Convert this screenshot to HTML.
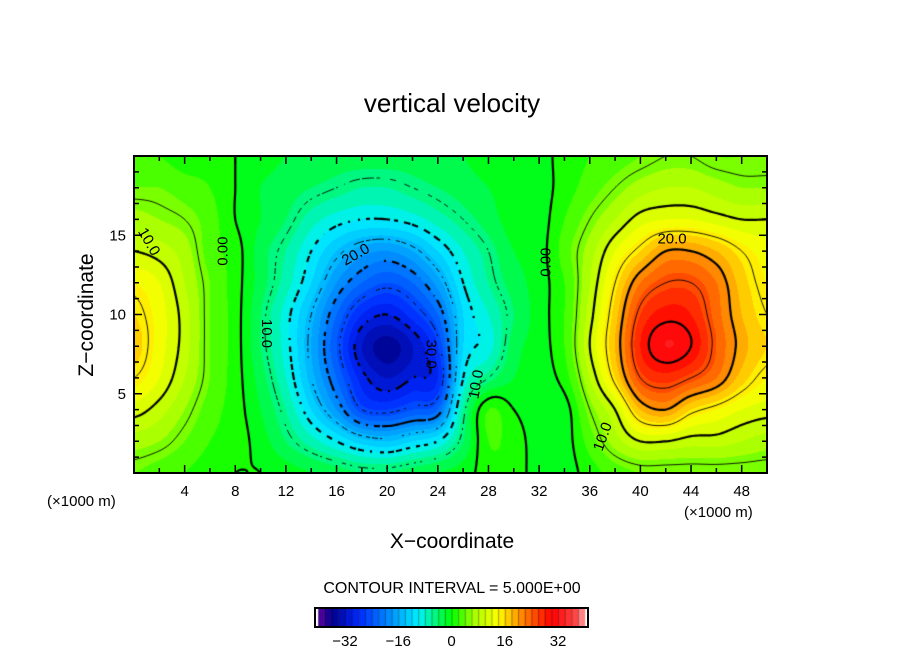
<!DOCTYPE html>
<html><head><meta charset="utf-8"><style>
body{margin:0;background:#fff;width:904px;height:654px;overflow:hidden;font-family:"Liberation Sans",sans-serif}
</style></head><body>
<svg id="svg" width="904" height="654" style="position:absolute;left:0;top:0">
<text x="452" y="112" font-size="26" text-anchor="middle">vertical velocity</text>
<text x="452" y="548" font-size="21" text-anchor="middle">X−coordinate</text>
<text transform="translate(93,315) rotate(-90)" font-size="21" text-anchor="middle">Z−coordinate</text>
<text x="47" y="506" font-size="15">(×1000 m)</text>
<text x="684" y="517" font-size="15">(×1000 m)</text>
<text x="452" y="593" font-size="16" text-anchor="middle">CONTOUR INTERVAL = 5.000E+00</text>
</svg>
<canvas id="cv" width="904" height="654" style="position:absolute;left:0;top:0"></canvas>
<svg id="ov" width="904" height="654" style="position:absolute;left:0;top:0"></svg>
<script>
const xNodes=[0,2,4,6,8,10,12,14,16,18,20,22,24,26,28,30,32,34,36,38,40,42,44,46,48,50];
const zNodes=[0,2,4,6,8,10,12,14,16,18,20];
const values=[
[4,3,2,1,0,0,-1,-2,-3,-4,-4,-3,-2,-1,1,1,-1,-1,1,3,4,4,4,4,4,4],
[7,6,4,2,1,-1,-4,-7,-10,-13,-14,-12,-10,-4,2,1,-1,-1,3,7,10,10,9,9,8,7],
[11,9,6,3,1,-2,-6,-12,-18,-25,-26,-24,-22,-6,2,0,-1,-1,5,10,18,20,16,14,12,11],
[15,12,8,4,1,-3,-8,-15,-22,-29,-32,-30,-28,-10,-5,-2,-1,1,8,16,25,27,25,22,17,14],
[17,13,9,4,1,-4,-9,-16,-24,-32,-35,-32,-26,-12,-9,-3,-1,2,10,18,28,32,30,24,19,16],
[16,13,9,4,1,-4,-9,-15,-22,-28,-30,-27,-22,-12,-8,-4,-1,2,9,17,26,29,28,23,18,15],
[14,12,8,4,1,-3,-7,-12,-18,-22,-24,-22,-17,-10,-6,-3,-1,2,8,15,22,25,25,22,17,14],
[10,9,7,3,1,-3,-6,-10,-14,-17,-18,-16,-12,-8,-5,-2,-1,3,7,12,16,20,20,18,15,13],
[7,6,5,3,0,-2,-4,-7,-9,-10,-10,-9,-7,-5,-3,-1,-1,2,5,8,11,12,12,11,10,10],
[4,4,3,2,0,-2,-3,-4,-5,-6,-6,-5,-4,-3,-2,-1,-1,1,3,5,7,8,8,7,6,6],
[2,2,1,1,0,-1,-2,-2,-3,-3,-3,-3,-2,-2,-1,-1,-1,1,2,3,4,5,5,4,4,4]];
const xTicks=[4,8,12,16,20,24,28,32,36,40,44,48];
const zTicks=[5,10,15];
const cbTicks=[-32,-16,0,16,32];
const contourLevels=[-30,-25,-20,-15,-10,-5,0,5,10,15,20,25,30];
const labelText=["10.0","0.00","10.0","20.0","30.0","10.0","0.00","20.0","10.0"];
const labelX=[1.2,7.0,10.5,17.5,23.5,27.0,32.5,42.5,37.0];
const labelZ=[14.6,14.0,8.8,13.8,7.5,5.6,13.3,14.8,2.3];
const labelRot=[60,-90,90,-30,90,-80,-90,0,-70];

const PL=134,PR=767,PT=156,PB=473,X0=0,X1=50,Z0=0,Z1=20;
const sx=x=>PL+(x-X0)/(X1-X0)*(PR-PL);
const sz=z=>PB-(z-Z0)/(Z1-Z0)*(PB-PT);
function cr(p0,p1,p2,p3,t){return p1+0.5*t*(p2-p0+t*(2*p0-5*p1+4*p2-p3+t*(3*(p1-p2)+p3-p0)));}
function V(j,i){j=Math.max(0,Math.min(zNodes.length-1,j));i=Math.max(0,Math.min(xNodes.length-1,i));return values[j][i];}
function val(x,z){
  let i=(x-xNodes[0])/(xNodes[1]-xNodes[0]),j=(z-zNodes[0])/(zNodes[1]-zNodes[0]);
  i=Math.max(0,Math.min(xNodes.length-1.0001,i));j=Math.max(0,Math.min(zNodes.length-1.0001,j));
  const i0=Math.floor(i),j0=Math.floor(j),fx=i-i0,fz=j-j0;
  const r=[];for(let k=-1;k<=2;k++)r.push(cr(V(j0+k,i0-1),V(j0+k,i0),V(j0+k,i0+1),V(j0+k,i0+2),fx));
  return cr(r[0],r[1],r[2],r[3],fz);
}
const stops=[[-40,[100,0,160]],[-36,[0,0,140]],[-28,[0,40,255]],[-18,[0,150,255]],[-10,[0,240,255]],[0,[0,255,0]],[7,[170,255,0]],[14,[255,255,0]],[22,[255,120,0]],[30,[255,0,0]],[37,[255,70,70]],[40,[255,160,160]]];
function cmap(v){
  v=Math.floor(v/2)*2+1;
  if(v<=stops[0][0])return stops[0][1];
  for(let k=1;k<stops.length;k++){if(v<=stops[k][0]){const t=(v-stops[k-1][0])/(stops[k][0]-stops[k-1][0]);return stops[k-1][1].map((c,n)=>Math.round(c+(stops[k][1][n]-c)*t));}}
  return stops[stops.length-1][1];
}
const cv=document.getElementById('cv'),ctx=cv.getContext('2d');
const W=PR-PL,H=PB-PT,img=ctx.createImageData(W,H);
for(let py=0;py<H;py++)for(let px=0;px<W;px++){
  const x=X0+(px+0.5)/W*(X1-X0),z=Z1-(py+0.5)/H*(Z1-Z0);
  const c=cmap(val(x,z)),o=(py*W+px)*4;img.data[o]=c[0];img.data[o+1]=c[1];img.data[o+2]=c[2];img.data[o+3]=255;}
ctx.putImageData(img,PL,PT);
const st=2,nx=Math.ceil(W/st),nz=Math.ceil(H/st);
const g=[];for(let j=0;j<=nz;j++){g[j]=[];for(let i=0;i<=nx;i++){g[j][i]=val(X0+Math.min(W,i*st)/W*(X1-X0),Z1-Math.min(H,j*st)/H*(Z1-Z0));}}
ctx.strokeStyle='#000';
contourLevels.forEach(L=>{
  ctx.lineWidth=(L%10===0)?2.2:0.9;
  const dash=L<0, per=(L%10===0)?8:6;
  ctx.beginPath();
  const seg=(a,b)=>{
    if(dash){const mx=(a[0]+b[0])/2,my=(a[1]+b[1])/2;
      if(Math.floor((mx+my*0.7)/per)%2!==Math.floor((mx*0.7-my+1000)/per)%2)return;}
    ctx.moveTo(a[0],a[1]);ctx.lineTo(b[0],b[1]);};
  for(let j=0;j<nz;j++)for(let i=0;i<nx;i++){
    const p=[[i,j,g[j][i]],[i+1,j,g[j][i+1]],[i+1,j+1,g[j+1][i+1]],[i,j+1,g[j+1][i]]];
    const pts=[];
    for(let k=0;k<4;k++){const A=p[k],B=p[(k+1)%4];if((A[2]-L)*(B[2]-L)<0){const t=(L-A[2])/(B[2]-A[2]);pts.push([PL+Math.min(W,(A[0]+(B[0]-A[0])*t)*st),PT+Math.min(H,(A[1]+(B[1]-A[1])*t)*st)]);}}
    if(pts.length>=2)seg(pts[0],pts[1]);
    if(pts.length===4)seg(pts[2],pts[3]);
  }
  ctx.stroke();
});
const CBL=315,CBR=588,CBT=608,CBB=627,CV0=-41,CV1=41;
const cx=v=>CBL+(v-CV0)/(CV1-CV0)*(CBR-CBL);
for(let v=-40;v<40;v+=2){const c=cmap(v);ctx.fillStyle=`rgb(${c})`;ctx.fillRect(cx(v),CBT,cx(v+2)-cx(v)+0.5,CBB-CBT);
  ctx.fillStyle='rgba(0,0,0,0.35)';ctx.fillRect(cx(v),CBT,1,CBB-CBT);}
const ov=document.getElementById('ov'),NS='http://www.w3.org/2000/svg';
function mk(t,a,p){const e=document.createElementNS(NS,t);for(const k in a)e.setAttribute(k,a[k]);(p||ov).appendChild(e);return e;}
const cbr=mk('rect',{x:CBL,y:CBT,width:CBR-CBL,height:CBB-CBT,fill:'none',stroke:'#000','stroke-width':2});


cbTicks.forEach(v=>{const t=mk('text',{x:cx(v),y:646,'font-size':15,'text-anchor':'middle'});t.textContent=(v<0?'−':'')+Math.abs(v);

});
const fr=mk('rect',{x:PL,y:PT,width:W,height:H,fill:'none',stroke:'#000','stroke-width':2});


let d='';
for(let x=2;x<50;x+=2){const L=x%4===0?8:5;d+=`M${sx(x)},${PB}v${-L}M${sx(x)},${PT}v${L}`;}
for(let z=1;z<20;z++){const L=z%5===0?8:5;d+=`M${PL},${sz(z)}h${L}M${PR},${sz(z)}h${-L}`;}
const tk=mk('path',{d:d,stroke:'#000','stroke-width':1.5});


xTicks.forEach(x=>{const t=mk('text',{x:sx(x),y:496,'font-size':15,'text-anchor':'middle'});t.textContent=x;

});
zTicks.forEach(z=>{const t=mk('text',{x:126,y:sz(z)+5,'font-size':15,'text-anchor':'end'});t.textContent=z;

});
labelText.forEach((s,k)=>{const X=sx(labelX[k]),Y=sz(labelZ[k]);
const t=mk('text',{x:X,y:Y+5,'font-size':15,'text-anchor':'middle',transform:`rotate(${labelRot[k]},${X},${Y})`});t.textContent=s;

});
</script>
</body></html>
